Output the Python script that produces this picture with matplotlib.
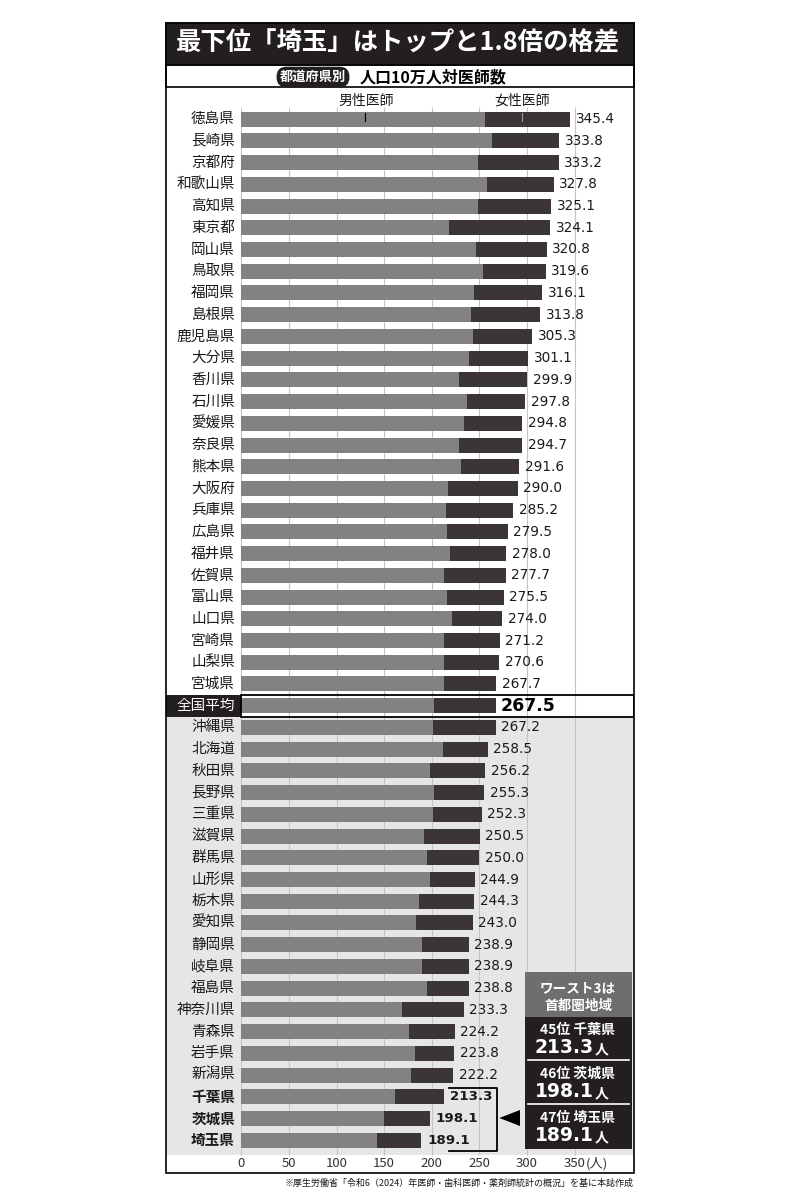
import numpy as np
import matplotlib
matplotlib.use("Agg")
import matplotlib.pyplot as plt
from matplotlib.patches import Rectangle, Polygon

plt.rcParams['font.family'] = ['Noto Sans CJK JP', 'DejaVu Sans']

# --- データ (人口10万人対医師数) ---
prefs = ["徳島県", "長崎県", "京都府", "和歌山県", "高知県", "東京都", "岡山県", "鳥取県",
         "福岡県", "島根県", "鹿児島県", "大分県", "香川県", "石川県", "愛媛県", "奈良県",
         "熊本県", "大阪府", "兵庫県", "広島県", "福井県", "佐賀県", "富山県", "山口県",
         "宮崎県", "山梨県", "宮城県", "全国平均", "沖縄県", "北海道", "秋田県", "長野県",
         "三重県", "滋賀県", "群馬県", "山形県", "栃木県", "愛知県", "静岡県", "岐阜県",
         "福島県", "神奈川県", "青森県", "岩手県", "新潟県", "千葉県", "茨城県", "埼玉県"]
totals = [345.4, 333.8, 333.2, 327.8, 325.1, 324.1, 320.8, 319.6, 316.1, 313.8, 305.3, 301.1,
          299.9, 297.8, 294.8, 294.7, 291.6, 290.0, 285.2, 279.5, 278.0, 277.7, 275.5, 274.0,
          271.2, 270.6, 267.7, 267.5, 267.2, 258.5, 256.2, 255.3, 252.3, 250.5, 250.0, 244.9,
          244.3, 243.0, 238.9, 238.9, 238.8, 233.3, 224.2, 223.8, 222.2, 213.3, 198.1, 189.1]
# 男性医師
male = [256.2, 263.2, 248.1, 257.6, 248.1, 218.4, 246.7, 253.4, 244.3, 240.8, 242.9, 238.7,
        228.9, 236.6, 234.1, 228.5, 231.0, 217.3, 214.5, 215.9, 219.1, 213.1, 216.3, 221.2,
        213.1, 213.1, 212.8, 202.3, 200.9, 211.7, 198.1, 201.9, 200.9, 191.4, 195.3, 198.1,
        186.5, 183.4, 189.7, 189.4, 195.3, 168.3, 176.4, 182.3, 178.5, 161.0, 149.8, 142.8]
ticks = [0, 50, 100, 150, 200, 250, 300, 350]
worst = ["千葉県", "茨城県", "埼玉県"]
worst_rank = ["45位", "46位", "47位"]
avg_name = "全国平均"

MALE_C = "#828282"
FEMALE_C = "#3b3535"
DARK = "#231f20"
BG_GRAY = "#e6e6e6"

totals = np.array(totals)
male = np.array(male)
y = np.arange(len(prefs))
avg_i = prefs.index(avg_name)

fig = plt.figure(figsize=(8, 12), dpi=100)
ax = fig.add_axes([165.7 / 800, 1 - 1173 / 1200, (634.3 - 165.7) / 800, (1173 - 87) / 1200])
ax.set_xlim(-79.4, 412.6)
ax.set_ylim(48.51, -1.48)
ax.axis("off")

# 背景 (全国平均より下はグレー)
ax.axhspan(avg_i + 0.52, len(prefs) - 0.31, color=BG_GRAY, zorder=0, lw=0)

# グリッド
ax.vlines(ticks, -0.56, len(prefs) - 0.31, color="#c4c4c4", lw=0.8, zorder=1)

# 棒
ax.barh(y, male, height=0.69, color=MALE_C, zorder=2, lw=0)
ax.barh(y, totals - male, left=male, height=0.69, color=FEMALE_C, zorder=2, lw=0)

# ラベル
for i, (name, tot) in enumerate(zip(prefs, totals)):
    if name == avg_name:
        ax.add_patch(Rectangle((-79.4, i - 0.49), 79.4, 1.0, fc=DARK, ec="none", zorder=3))
        ax.add_patch(Rectangle((0, i - 0.49), 412.0, 1.0, fc="none", ec="black", lw=1.3, zorder=4))
        ax.text(-6.6, i, name, ha="right", va="center", fontsize=10.5, color="white", zorder=5)
        ax.annotate(f"{tot:.1f}", (tot, i), xytext=(3, 0), textcoords="offset points",
                    ha="left", va="center", fontsize=12.5, fontweight="bold",
                    family="DejaVu Sans", color="black", zorder=5)
        continue
    bold = name in worst
    ax.text(-6.6, i, name, ha="right", va="center", fontsize=10.5, color="#1a1a1a",
            fontweight="bold" if bold else "normal")
    ax.annotate(f"{tot:.1f}", (tot, i), xytext=(4, 0), textcoords="offset points",
                ha="left", va="center", fontsize=9.8 if not bold else 9.6,
                fontweight="bold" if bold else "normal",
                family="DejaVu Sans", color="#1a1a1a")

# 目盛りラベル
for t in ticks:
    ax.text(t, 48.07, str(t), ha="center", va="center", fontsize=9.5, color="#333333")
ax.annotate("(人)", (350, 48.07), xytext=(8, 0), textcoords="offset points",
            ha="left", va="center", fontsize=9.5, color="#333333")

# 凡例ラベル
ax.text(130.9, -0.86, "男性医師", ha="center", va="center", fontsize=10, color="#1a1a1a")
ax.text(294.4, -0.86, "女性医師", ha="center", va="center", fontsize=10, color="#1a1a1a")
ax.plot([129.5, 129.5], [-0.28, 0.07], color="black", lw=0.8, zorder=3)
ax.plot([295.0, 295.0], [-0.28, 0.07], color="#9a9a9a", lw=0.8, zorder=3)

# ワースト3の括弧
ax.plot([218, 268, 268, 218], [44.6, 44.6, 47.5, 47.5], color="black", lw=1.3, zorder=3)

# --- 装飾 (タイトル・注記ボックス) ---
ov = fig.add_axes([0, 0, 1, 1])
ov.set_xlim(0, 800)
ov.set_ylim(1200, 0)
ov.axis("off")

ov.add_patch(Rectangle((165.7, 23), 468.6, 42, fc=DARK, ec=DARK, lw=1.2))
ov.text(398, 43, "最下位「埼玉」はトップと1.8倍の格差", ha="center", va="center",
        fontsize=18.3, fontweight="bold", color="white")
ov.add_patch(Rectangle((165.7, 65), 468.6, 22, fc="none", ec="black", lw=1.2))
ov.text(313, 77, "都道府県別", ha="center", va="center", fontsize=9.5, fontweight="bold",
        color="white", bbox=dict(boxstyle="round,pad=0.25,rounding_size=0.75", fc=DARK, ec="none"))
ov.text(360, 77, "人口10万人対医師数", ha="left", va="center", fontsize=11.5,
        fontweight="bold", color="black")
# 外枠
ov.add_patch(Rectangle((165.7, 23), 468.6, 1150, fc="none", ec="black", lw=1.2))

# 矢印
ov.add_patch(Polygon([(499.3, 1118), (520, 1110), (520, 1126)], closed=True, fc="black", ec="none"))

# 注記ボックス
ov.add_patch(Rectangle((525, 972), 107, 45, fc="#6e6e6e", ec="none"))
ov.add_patch(Rectangle((525, 1017), 107, 132, fc=DARK, ec="none"))
ov.text(578, 988, "ワースト3は", ha="center", va="center", fontsize=9.8, fontweight="bold", color="white")
ov.text(578, 1006, "首都圏地域", ha="center", va="center", fontsize=9.8, fontweight="bold", color="white")
for k, (rank, name) in enumerate(zip(worst_rank, worst)):
    val = totals[prefs.index(name)]
    y0 = 1030 + k * 44
    ov.text(578, y0, f"{rank} {name}", ha="center", va="center", fontsize=10,
            fontweight="bold", color="white")
    ov.text(594, y0 + 23, f"{val:.1f}", ha="right", va="baseline", fontsize=13.5,
            fontweight="bold", family="DejaVu Sans", color="white")
    ov.text(595, y0 + 23, "人", ha="left", va="baseline", fontsize=10,
            fontweight="bold", color="white")
    if k < 2:
        ov.plot([528, 629], [y0 + 29.5, y0 + 29.5], color="white", lw=1.2)

# 出典
fig.text(634 / 800, 1 - 1183 / 1200,
         "※厚生労働省「令和6（2024）年医師・歯科医師・薬剤師統計の概況」を基に本誌作成",
         ha="right", va="center", fontsize=6.5, color="#1a1a1a")

fig.savefig("out.png", dpi=100)
